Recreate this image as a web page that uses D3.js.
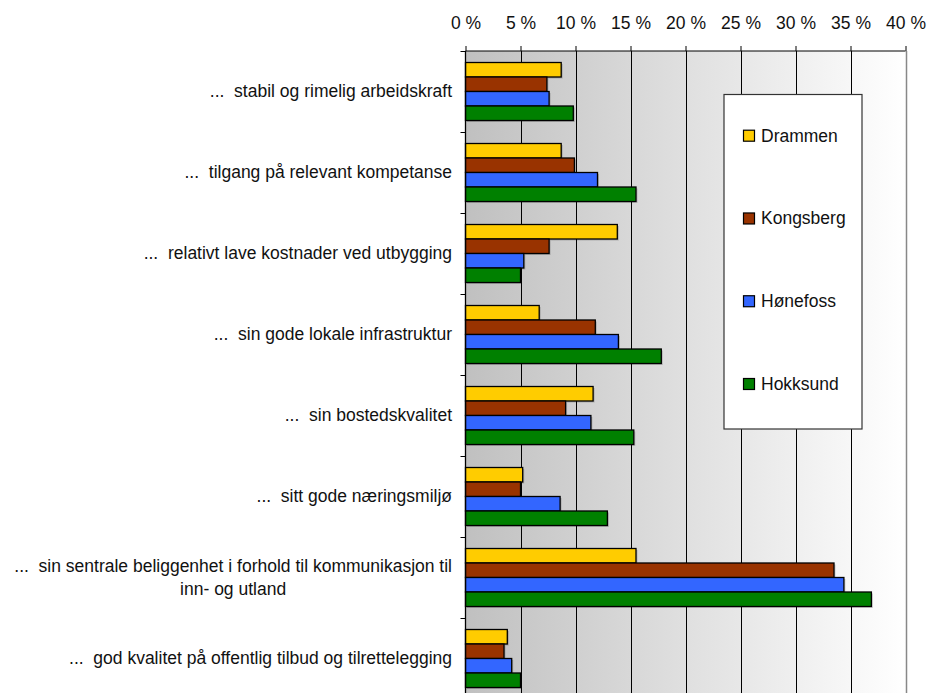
<!DOCTYPE html>
<html>
<head>
<meta charset="utf-8">
<script src="https://cdn.jsdelivr.net/npm/d3@7"></script>
<style>
	body { margin: 0; background: #fff; }
	svg text { font-family: "Liberation Sans", Arial, sans-serif; fill: #111; white-space: pre; }
</style>
</head>
<body>
<div id="chart"></div>
<script>
var categories = [
	["...  stabil og rimelig arbeidskraft"],
	["...  tilgang på relevant kompetanse"],
	["...  relativt lave kostnader ved utbygging"],
	["...  sin gode lokale infrastruktur"],
	["...  sin bostedskvalitet"],
	["...  sitt gode næringsmiljø"],
	["...  sin sentrale beliggenhet i forhold til kommunikasjon til", "inn- og utland"],
	["...  god kvalitet på offentlig tilbud og tilrettelegging"]
];
var seriesNames = ["Drammen", "Kongsberg", "Hønefoss", "Hokksund"];
var drammen   = [8.7, 8.7, 13.8, 6.7, 11.6, 5.2, 15.5, 3.8];
var kongsberg = [7.4, 9.9, 7.6, 11.8, 9.1, 5.0, 33.5, 3.5];
var honefoss  = [7.6, 12.0, 5.3, 13.9, 11.4, 8.6, 34.4, 4.2];
var hokksund  = [9.8, 15.5, 5.0, 17.8, 15.3, 12.9, 36.9, 5.0];
var xTicks = [0, 5, 10, 15, 20, 25, 30, 35, 40];
var colors = ["#FFCC00", "#993300", "#3366FF", "#008000"];

var allSeries = [drammen, kongsberg, honefoss, hokksund];
var data = categories.map(function(c, i) {
	return {lines: c, values: allSeries.map(function(s, j) { return {name: seriesNames[j], value: s[i]}; })};
});

var W = 928, H = 693;
var margin = {top: 51, left: 465.5, right: 22.5};
var plotBottom = 699;
var fontSize = 17.5;

var svg = d3.select("#chart").append("svg")
	.attr("width", W)
	.attr("height", H);

var x = d3.scaleLinear()
	.domain([0, 40])
	.range([margin.left, W - margin.right]);

var y0 = d3.scaleBand()
	.domain(d3.range(categories.length))
	.range([margin.top, plotBottom])
	.paddingInner(0.284)
	.paddingOuter(0.142);

var y1 = d3.scaleBand()
	.domain(seriesNames)
	.range([0, y0.bandwidth()]);

var color = d3.scaleOrdinal().domain(seriesNames).range(colors);

// plot background gradient
var grad = svg.append("defs").append("linearGradient")
	.attr("id", "bg")
	.attr("x1", "0%").attr("x2", "100%").attr("y1", "0%").attr("y2", "0%");
grad.append("stop").attr("offset", "0%").attr("stop-color", "#c0c0c0");
grad.append("stop").attr("offset", "100%").attr("stop-color", "#ffffff");

svg.append("rect")
	.attr("x", x(0))
	.attr("y", margin.top)
	.attr("width", x(40) - x(0))
	.attr("height", plotBottom - margin.top)
	.style("fill", "url(#bg)");

// gridlines
svg.append("g")
	.selectAll("line")
	.data(xTicks.slice(1, -1))
	.enter().append("line")
	.attr("x1", function(d) { return Math.round(x(d)) + 0.5; })
	.attr("x2", function(d) { return Math.round(x(d)) + 0.5; })
	.attr("y1", margin.top)
	.attr("y2", plotBottom)
	.style("stroke", "#000")
	.style("stroke-width", 1);

svg.append("line")
	.attr("x1", Math.round(x(40)) + 0.5)
	.attr("x2", Math.round(x(40)) + 0.5)
	.attr("y1", margin.top)
	.attr("y2", plotBottom)
	.style("stroke", "#888")
	.style("stroke-width", 1.5);

// bars
var group = svg.selectAll(".cat")
	.data(data)
	.enter().append("g")
	.attr("class", "cat")
	.attr("transform", function(d, i) { return "translate(0," + y0(i) + ")"; });

group.selectAll("rect.shadow")
	.data(function(d) { return d.values; })
	.enter().append("rect")
	.attr("class", "shadow")
	.attr("x", x(0) + 1.5)
	.attr("y", function(d) { return y1(d.name) + 1.5; })
	.attr("width", function(d) { return x(d.value) - x(0); })
	.attr("height", y1.bandwidth())
	.style("fill", "#000")
	.style("opacity", 0.18);

group.selectAll("rect.bar")
	.data(function(d) { return d.values; })
	.enter().append("rect")
	.attr("class", "bar")
	.attr("x", x(0))
	.attr("y", function(d) { return y1(d.name); })
	.attr("width", function(d) { return x(d.value) - x(0); })
	.attr("height", y1.bandwidth())
	.style("fill", function(d) { return color(d.name); })
	.style("stroke", "#000")
	.style("stroke-width", 1.3);

// top axis
var xAxis = d3.axisTop(x)
	.tickValues(xTicks)
	.tickSize(5)
	.tickFormat(function(d) { return d + " %"; });

var gx = svg.append("g")
	.attr("transform", "translate(0," + margin.top + ")")
	.call(xAxis);
gx.select(".domain").attr("d", "M" + x(0) + ",0H" + x(40)).style("stroke", "#000");
gx.selectAll(".tick line").style("stroke", "#000");
gx.selectAll(".tick text")
	.attr("y", -22)
	.attr("dy", 0)
	.style("font-size", fontSize + "px")
	.style("font-family", "Liberation Sans, Arial, sans-serif")
	.style("fill", "#111");

// left axis line and ticks at band boundaries
var step = y0.step();
var boundaries = d3.range(categories.length + 1).map(function(i) { return margin.top + i * step; });

svg.append("line")
	.attr("x1", x(0)).attr("x2", x(0))
	.attr("y1", margin.top).attr("y2", plotBottom)
	.style("stroke", "#000")
	.style("stroke-width", 1.3);

svg.append("g")
	.selectAll("line")
	.data(boundaries)
	.enter().append("line")
	.attr("x1", x(0) - 5).attr("x2", x(0))
	.attr("y1", function(d) { return Math.round(d) + 0.5; })
	.attr("y2", function(d) { return Math.round(d) + 0.5; })
	.style("stroke", "#000");

// category labels
var labelX = 452;
var lineH = 23.5;
group.each(function(d) {
	var g = d3.select(this);
	var cy = y0.bandwidth() / 2 + 6;
	var n = d.lines.length;
	var first = g.append("text")
		.attr("x", labelX)
		.attr("y", cy - (n - 1) * lineH / 2)
		.style("font-size", fontSize + "px")
		.style("text-anchor", "end")
		.text(d.lines[0]);
	if (n > 1) {
		var w = first.node().getComputedTextLength();
		for (var k = 1; k < n; k++) {
			g.append("text")
				.attr("x", labelX - w / 2)
				.attr("y", cy - (n - 1) * lineH / 2 + k * lineH)
				.style("font-size", fontSize + "px")
				.style("text-anchor", "middle")
				.text(d.lines[k]);
		}
	}
});

// legend
var legend = svg.append("g").attr("class", "legend");
legend.append("rect")
	.attr("x", 724)
	.attr("y", 94.5)
	.attr("width", 138)
	.attr("height", 334.5)
	.style("fill", "#fff")
	.style("stroke", "#333")
	.style("stroke-width", 1.2);

var legendY = d3.scalePoint()
	.domain(seriesNames)
	.range([135.7, 384]);

var item = legend.selectAll(".item")
	.data(seriesNames)
	.enter().append("g")
	.attr("class", "item")
	.attr("transform", function(d) { return "translate(0," + legendY(d) + ")"; });

item.append("rect")
	.attr("x", 743.5)
	.attr("y", -5.5)
	.attr("width", 11)
	.attr("height", 11)
	.style("fill", function(d) { return color(d); })
	.style("stroke", "#000")
	.style("stroke-width", 1.2);

item.append("text")
	.attr("x", 761)
	.attr("y", 6)
	.style("font-size", fontSize + "px")
	.text(function(d) { return d; });
</script>
</body>
</html>
